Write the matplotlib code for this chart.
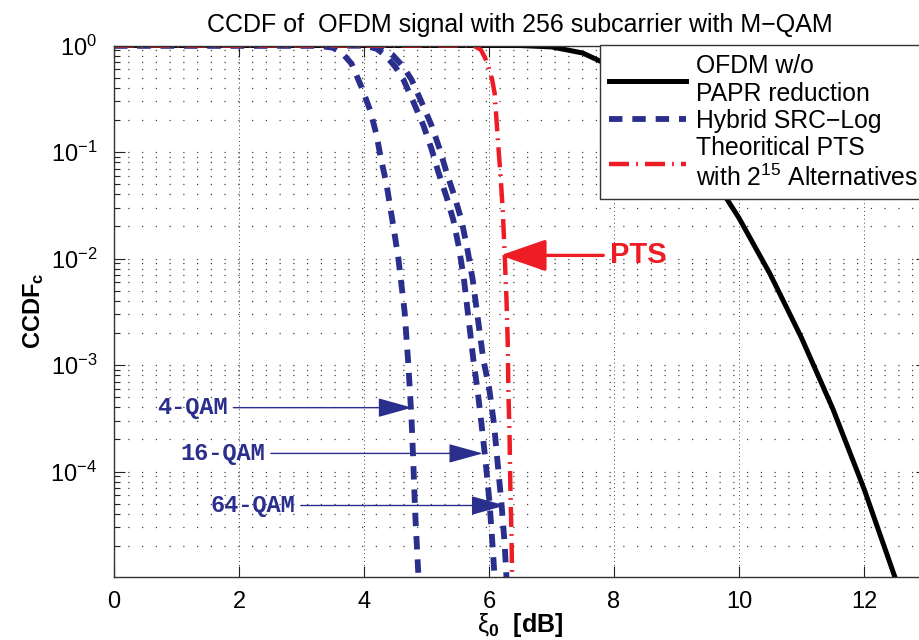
import matplotlib
matplotlib.use("Agg")
import matplotlib.pyplot as plt
from matplotlib.ticker import LogLocator, NullFormatter, FixedLocator

plt.rcParams['font.family'] = ['Liberation Sans', 'DejaVu Sans']
plt.rcParams['mathtext.fontset'] = 'custom'
plt.rcParams['mathtext.rm'] = 'Liberation Sans'
plt.rcParams['mathtext.bf'] = 'Liberation Sans:bold'
plt.rcParams['mathtext.it'] = 'Liberation Sans:italic'

# OFDM without PAPR reduction
x_ofdm = [0, 1, 2, 3, 4, 5, 6, 6.5, 7.0, 7.5, 8.0, 8.5, 9.0, 9.5, 10.0, 10.5, 11.0, 11.5, 12.0, 12.5, 12.7]
ccdf_ofdm = [1, 1, 1, 1, 1, 1, 1, 0.999, 0.97, 0.85, 0.62, 0.36, 0.17, 0.069, 0.024, 0.0071, 0.0018,
             3.9e-4, 6.9e-5, 1.0e-5, 4.5e-6]

# Hybrid SRC-Log, 4-QAM
x_4qam = [0, 3.2, 3.5, 3.65, 3.8, 3.96, 4.10, 4.20, 4.27, 4.36, 4.42, 4.47, 4.55, 4.65, 4.71, 4.76,
          4.79, 4.82, 4.87, 4.88]
ccdf_4qam = [1, 1, 0.955, 0.85, 0.676, 0.407, 0.245, 0.145, 0.0871, 0.0501, 0.0302, 0.020, 0.01,
             3.16e-3, 1e-3, 3.16e-4, 1.17e-4, 3.98e-5, 1.07e-5, 7.9e-6]

# Hybrid SRC-Log, 16-QAM
x_16qam = [0, 4.0, 4.2, 4.34, 4.50, 4.63, 4.79, 4.95, 5.08, 5.19, 5.32, 5.43, 5.52, 5.60, 5.68, 5.75,
           5.82, 5.88, 5.95, 6.01, 6.06, 6.09, 6.10]
ccdf_16qam = [1, 1, 0.933, 0.813, 0.631, 0.479, 0.295, 0.178, 0.107, 0.0646, 0.0380, 0.0229, 0.0126,
              6.3e-3, 2.5e-3, 1.12e-3, 5.6e-4, 2.8e-4, 1.17e-4, 5.0e-5, 1.9e-5, 1.0e-5, 7.9e-6]

# Hybrid SRC-Log, 64-QAM
x_64qam = [0, 4.1, 4.3, 4.46, 4.63, 4.76, 4.92, 5.08, 5.21, 5.32, 5.45, 5.56, 5.65, 5.74, 5.83, 5.91,
           6.00, 6.08, 6.14, 6.20, 6.25, 6.28, 6.29]
ccdf_64qam = [1, 1, 0.933, 0.813, 0.631, 0.479, 0.295, 0.178, 0.107, 0.0646, 0.0380, 0.0229, 0.0126,
              6.3e-3, 2.5e-3, 1.12e-3, 6.2e-4, 2.8e-4, 1.17e-4, 5.0e-5, 2.1e-5, 1.0e-5, 7.9e-6]

# Theoretical PTS with 2^15 alternatives
x_pts = [0, 5.75, 5.87, 5.94, 5.99, 6.05, 6.09, 6.12, 6.15, 6.19, 6.22, 6.25, 6.28, 6.30, 6.31, 6.33,
         6.34, 6.36, 6.37, 6.375]
ccdf_pts = [1, 1, 0.912, 0.759, 0.631, 0.479, 0.355, 0.200, 0.112, 0.0537, 0.0282, 0.0112, 4.1e-3,
            1.6e-3, 5.8e-4, 2.0e-4, 8.1e-5, 2.5e-5, 1.0e-5, 7.9e-6]

# annotation arrows: label, tail x (end of text), tip x, y
qam_labels = ['4-QAM', '16-QAM', '64-QAM']
qam_text_x = [1.82, 2.42, 2.90]
qam_tip_x = [4.77, 5.90, 6.26]
qam_y = [3.98e-4, 1.48e-4, 4.8e-5]

navy = '#2a2e8c'
red = '#ee1c25'

fig = plt.figure(figsize=(9.19, 6.4), dpi=100)
ax = fig.add_axes([114 / 919, 1 - 576.7 / 640, 812.5 / 919, (576.7 - 45.5) / 640])

ax.semilogy(x_ofdm, ccdf_ofdm, color='black', lw=3.6, label='OFDM w/o\nPAPR reduction')
ax.semilogy(x_4qam, ccdf_4qam, color=navy, lw=4.2, linestyle=(0, (2.3, 1.7)), label='Hybrid SRC\u2212Log')
ax.semilogy(x_16qam, ccdf_16qam, color=navy, lw=4.2, linestyle=(0, (2.3, 1.7)))
ax.semilogy(x_64qam, ccdf_64qam, color=navy, lw=4.2, linestyle=(0, (2.3, 1.7)))
ax.semilogy(x_pts, ccdf_pts, color=red, lw=3.2, linestyle=(0, (4.5, 1.6, 0.4, 1.6)),
            label='Theoritical PTS\nwith 2$^{15}$ Alternatives')

ax.set_xlim(0, 13)
ax.set_ylim(1.03e-5, 1)
ax.xaxis.set_major_locator(FixedLocator([0, 2, 4, 6, 8, 10, 12]))
ax.yaxis.set_major_locator(LogLocator(base=10, numticks=10))
ax.yaxis.set_minor_locator(LogLocator(base=10, subs=range(2, 10), numticks=20))
ax.yaxis.set_minor_formatter(NullFormatter())

ax.tick_params(which='both', direction='in', top=True, right=True, labelsize=17, colors='#222222',
               labelcolor='black')
ax.tick_params(which='major', length=8, width=0.8)
ax.tick_params(which='minor', length=4, width=0.8)
ax.tick_params(axis='y', which='major', pad=12)
ax.tick_params(axis='x', which='major', pad=10)
for s in ax.spines.values():
    s.set_color('#333333')
    s.set_linewidth(1.0)

ax.yaxis.grid(True, which='both', linestyle=(0, (1, 10)), color='#444444', lw=0.9)
ax.xaxis.grid(True, which='major', linestyle=(0, (1, 3)), color='#444444', lw=0.7)

ax.set_title('CCDF of  OFDM signal with 256 subcarrier with M\u2212QAM', fontsize=18, pad=10)
ax.set_ylabel('CCDF$_\\mathbf{c}$', fontsize=17, fontweight='bold', labelpad=3)
ax.set_xlabel('$\\mathrm{\u03be}_\\mathbf{0}\\ \\ \\mathbf{[dB]}$', fontsize=18, labelpad=-1)

for lab, tx, tip, yy in zip(qam_labels, qam_text_x, qam_tip_x, qam_y):
    ax.annotate(lab, xy=(tip, yy), xytext=(tx, yy), ha='right', va='center', color=navy,
                fontsize=17, fontweight='bold', family=['Liberation Mono', 'DejaVu Sans Mono'],
                arrowprops=dict(arrowstyle='-|>,head_length=0.9,head_width=0.25', color=navy,
                                lw=1.0, mutation_scale=24, shrinkA=2, shrinkB=0))

ax.annotate('PTS', xy=(6.18, 1.07e-2), xytext=(7.94, 1.07e-2), ha='left', va='center', color=red,
            fontsize=21, fontweight='bold',
            arrowprops=dict(arrowstyle='-|>,head_length=0.95,head_width=0.33', color=red,
                            lw=2.4, mutation_scale=30, shrinkA=3, shrinkB=0))

leg = ax.legend(loc='upper right', bbox_to_anchor=(1.0, 1.0), borderaxespad=0, fontsize=17.8,
                handlelength=3.1, handletextpad=0.4, fancybox=False, framealpha=1,
                edgecolor='#333333', labelspacing=0.12, borderpad=0.35)
leg.get_frame().set_linewidth(1.0)

fig.savefig('out.png', dpi=100)
